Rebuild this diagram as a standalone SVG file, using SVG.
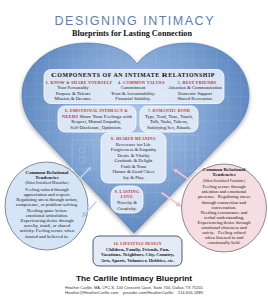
<svg xmlns="http://www.w3.org/2000/svg" width="268" height="300" viewBox="0 0 268 300">
<defs>
<radialGradient id="hg" cx="135" cy="115" r="120" gradientUnits="userSpaceOnUse">
<stop offset="0" stop-color="#a9c4e6"/>
<stop offset="0.6" stop-color="#7ea3d3"/>
<stop offset="1" stop-color="#5d87c0"/>
</radialGradient>
<pattern id="grid" width="12" height="12" patternUnits="userSpaceOnUse">
<path d="M0 0H12M0 0V12" fill="none" stroke="#ffffff" stroke-opacity="0.18" stroke-width="0.5"/>
</pattern>
<filter id="sh" x="-10%" y="-10%" width="120%" height="130%">
<feGaussianBlur in="SourceAlpha" stdDeviation="2"/>
<feOffset dx="0" dy="2"/>
<feComponentTransfer><feFuncA type="linear" slope="0.35"/></feComponentTransfer>
<feMerge><feMergeNode/><feMergeNode in="SourceGraphic"/></feMerge>
</filter>
<marker id="ab" viewBox="0 0 10 10" refX="5" refY="5" markerWidth="3" markerHeight="3" orient="auto">
<path d="M0 0L10 5L0 10Z" fill="#b7d4f2" stroke="#6c8fb8" stroke-width="0.6"/>
</marker>
<marker id="ap" viewBox="0 0 10 10" refX="5" refY="5" markerWidth="3" markerHeight="3" orient="auto">
<path d="M0 0L10 5L0 10Z" fill="#f4c6cf" stroke="#c28a95" stroke-width="0.6"/>
</marker>
</defs>
<style>
.t{font-family:"Liberation Serif",serif;font-size:4.7px;fill:#1a1a1a;text-anchor:middle}
.h{font-family:"Liberation Serif",serif;font-size:4px;font-weight:bold;fill:#c8302a;letter-spacing:0.25px}
.b{font-family:"Liberation Serif",serif;font-size:5px;font-weight:bold;fill:#1a1a1a;text-anchor:middle}
.s{font-family:"Liberation Serif",serif;font-size:3.7px;fill:#1a1a1a;text-anchor:middle}
.box{fill:#e3ecf8;fill-opacity:0.92;stroke:#ffffff;stroke-width:0.8}
.f{font-family:"Liberation Sans",Arial,sans-serif;font-size:3.6px;fill:#333;text-anchor:middle}
</style>
<rect width="268" height="300" fill="#ffffff"/>
<text x="134" y="25" font-family="'Liberation Sans',Arial,sans-serif" font-size="12.5" fill="#5a80b2" text-anchor="middle" textLength="159" lengthAdjust="spacing">DESIGNING INTIMACY</text>
<text x="132" y="35.5" font-family="'Liberation Serif',serif" font-size="7.4" font-weight="bold" fill="#111" text-anchor="middle" textLength="120" lengthAdjust="spacingAndGlyphs">Blueprints for Lasting Connection</text>
<g id="heart" filter="url(#sh)">
<path id="heartShape" d="M137 64C128 50 110 43 87 43C50 43 22 65 22 95C22 112 30 124 42 136L134 233L228 136C241 124 249 112 249 95C249 65 222 43 188 43C165 43 147 50 137 64Z" fill="url(#hg)"/>
<path d="M137 64C128 50 110 43 87 43C50 43 22 65 22 95C22 112 30 124 42 136L134 233L228 136C241 124 249 112 249 95C249 65 222 43 188 43C165 43 147 50 137 64Z" fill="url(#grid)" stroke="#4d77b0" stroke-width="0.6"/>
<g fill="none" stroke="#ffffff" stroke-opacity="0.3" stroke-width="0.5">
<rect x="72" y="140" width="22" height="30"/>
<rect x="172" y="135" width="26" height="36"/>
<circle cx="82" cy="150" r="3"/>
<circle cx="82" cy="160" r="3"/>
<path d="M172 150H198M185 135V171"/>
</g>
</g>
<g id="components">
<rect class="box" x="44" y="69.5" width="180" height="34" rx="7"/>
<text x="133" y="77.4" font-family="'Liberation Serif',serif" font-weight="bold" font-size="5.2" fill="#111" text-anchor="middle" textLength="164" lengthAdjust="spacingAndGlyphs" letter-spacing="0.5"><tspan font-size="7">C</tspan>OMPONENTS OF AN INTIMATE <tspan font-size="7">R</tspan>ELATIONSHIP</text>
<text class="h" x="45.5" y="84" textLength="67" lengthAdjust="spacingAndGlyphs">3. KNOW &amp; SHARE YOURSELF</text>
<text class="h" x="118" y="84" textLength="47" lengthAdjust="spacingAndGlyphs">4. COMMON VALUES</text>
<text class="h" x="177.5" y="84" textLength="39" lengthAdjust="spacingAndGlyphs">5. BEST FRIENDS</text>
<text class="t" x="73" y="89.2">Your Personality</text>
<text class="t" x="73" y="94.5">Purpose &amp; Talents</text>
<text class="t" x="73" y="99.7">Mission &amp; Dreams.</text>
<text class="t" x="133" y="89.2">Commitment</text>
<text class="t" x="133" y="94.5">Trust &amp; Accountability.</text>
<text class="t" x="133" y="99.7">Financial Stability.</text>
<text class="t" x="195" y="89.2">Attention &amp; Communication</text>
<text class="t" x="195" y="94.5">Domestic Support</text>
<text class="t" x="195" y="99.7">Shared Recreation.</text>
</g>
<g id="emotional">
<rect class="box" x="58" y="106" width="78" height="26" rx="7"/>
<text class="h" x="65" y="112" textLength="63" lengthAdjust="spacingAndGlyphs">6. EMOTIONAL INTIMACY &amp;</text>
<text class="t" x="97" y="117.6" textLength="70" lengthAdjust="spacingAndGlyphs"><tspan class="h" style="font-size:4px">NEEDS</tspan> Share Your Feelings with</text>
<text class="t" x="96" y="123.3">Respect, Mutual Empathy,</text>
<text class="t" x="96" y="129">Self-Disclosure, Optimism.</text>
</g>
<g id="romantic">
<rect class="box" x="140" y="106" width="58" height="26" rx="7"/>
<text class="h" x="169" y="112" text-anchor="middle" textLength="42" lengthAdjust="spacingAndGlyphs">7. ROMANTIC BOND</text>
<text class="t" x="169" y="117.6">Type, Tend, Time, Touch,</text>
<text class="t" x="169" y="123.3">Talk, Tasks, Tokens,</text>
<text class="t" x="169" y="129">Satisfying Sex, Rituals.</text>
</g>
<g id="meaning">
<rect class="box" x="101" y="133" width="65" height="50" rx="7"/>
<text class="h" x="133.5" y="140.2" text-anchor="middle" textLength="45" lengthAdjust="spacingAndGlyphs">8. SHARED MEANING</text>
<text class="t" x="133.5" y="145.6">Reverence for Life</text>
<text class="t" x="133.5" y="151.1">Forgiveness &amp; Empathy</text>
<text class="t" x="133.5" y="156.6">Desire &amp; Vitality</text>
<text class="t" x="133.5" y="162.1">Gratitude &amp; Delight</text>
<text class="t" x="133.5" y="167.6">Faith &amp; Trust</text>
<text class="t" x="133.5" y="173.1">Humor &amp; Good Cheer</text>
<text class="t" x="133.5" y="178.6">Joy &amp; Play.</text>
</g>
<g id="lasting">
<rect class="box" x="111" y="186" width="32" height="27" rx="9"/>
<text class="h" x="127" y="193" text-anchor="middle">9. LASTING</text>
<text class="h" x="127" y="198.4" text-anchor="middle">LOVE</text>
<text class="t" x="127" y="204.2">Novelty &amp;</text>
<text class="t" x="127" y="209.6">Creativity.</text>
</g>
<g id="masculine">
<ellipse cx="46.5" cy="206" rx="41.5" ry="44" fill="#d5e5f6" stroke="#3b4654" stroke-width="0.6"/>
<text class="b" x="47" y="173.6">Common Relational</text>
<text class="b" x="47" y="179">Tendencies</text>
<text class="s" x="47" y="184.4">(Often Socialized Masculine)</text>
<text class="t" x="47" y="190.8">Feeling valued through</text>
<text class="t" x="47" y="196">appreciation and respect.</text>
<text class="t" x="47" y="201.2">Regulating stress through action,</text>
<text class="t" x="47" y="206.4">competence, or problem-solving.</text>
<text class="t" x="47" y="211.6">Needing space before</text>
<text class="t" x="47" y="216.8">emotional articulation.</text>
<text class="t" x="47" y="222">Experiencing desire through</text>
<text class="t" x="47" y="227.2">novelty, touch, or shared</text>
<text class="t" x="47" y="232.4">activity. Feeling secure when</text>
<text class="t" x="47" y="237.6">trusted and believed in.</text>
</g>
<g id="feminine">
<ellipse cx="224" cy="208" rx="42.5" ry="44" fill="#f6dde2" stroke="#3b4654" stroke-width="0.6"/>
<text class="b" x="224" y="171">Common Relational</text>
<text class="b" x="224" y="176.4">Tendencies</text>
<text class="s" x="224" y="181.8">(Often Socialized Feminine)</text>
<text class="t" x="224" y="188.2">Feeling secure through</text>
<text class="t" x="224" y="193.3">attention and emotional</text>
<text class="t" x="224" y="198.4" xml:space="preserve">presence.  Regulating stress</text>
<text class="t" x="224" y="203.5">through connection and</text>
<text class="t" x="224" y="208.6">conversation.</text>
<text class="t" x="224" y="213.7">Needing reassurance and</text>
<text class="t" x="224" y="218.8">verbal understanding.</text>
<text class="t" x="224" y="223.9">Experiencing desire through</text>
<text class="t" x="224" y="229">emotional closeness and</text>
<text class="t" x="224" y="234.1" xml:space="preserve">safety.   Feeling valued</text>
<text class="t" x="224" y="239.2">when listened to and</text>
<text class="t" x="224" y="244.3">emotionally held.</text>
</g>
<g id="lifestyle">
<rect x="93" y="236" width="89" height="30" rx="6" fill="#e2ebf7" stroke="#26354a" stroke-width="0.8"/>
<text class="h" x="137.5" y="244.5" text-anchor="middle" textLength="48" lengthAdjust="spacingAndGlyphs">10. LIFESTYLE DESIGN</text>
<text class="t" x="137.5" y="250.5" font-weight="bold">Children, Family, Friends, Fun,</text>
<text class="t" x="137.5" y="256" font-weight="bold">Vacations, Neighbors, City, Country,</text>
<text class="t" x="137.5" y="261.5" font-weight="bold">Arts, Sports, Volunteer, Hobbies, etc.</text>
</g>
<g id="connectors" fill="none" stroke-width="1.6" stroke-linecap="round">
<line x1="78" y1="180" x2="90" y2="168" stroke="#b7d4f2" marker-end="url(#ab)"/>
<line x1="96" y1="202" x2="84" y2="215" stroke="#b7d4f2" marker-end="url(#ab)"/>
<line x1="188" y1="179" x2="175" y2="170" stroke="#f4c6cf" marker-end="url(#ap)"/>
<line x1="162" y1="193" x2="179" y2="205" stroke="#f4c6cf" marker-end="url(#ap)"/>
</g>
<g id="footer">
<text x="134" y="281" font-family="'Liberation Sans',Arial,sans-serif" font-size="8" font-weight="bold" fill="#111" text-anchor="middle" textLength="116" lengthAdjust="spacingAndGlyphs">The Carlile Intimacy Blueprint</text>
<text class="f" x="134" y="289" textLength="138" lengthAdjust="spacingAndGlyphs">Heather Carlile, MA, LPC-S, 100 Crescent Court, Suite 700, Dallas, TX 75201</text>
<text class="f" x="134" y="294" textLength="138" lengthAdjust="spacingAndGlyphs" xml:space="preserve">Heather@HeatherCarlile.com    youtube.com/HeatherCarlile    214-616-1889</text>
</g>
</svg>
